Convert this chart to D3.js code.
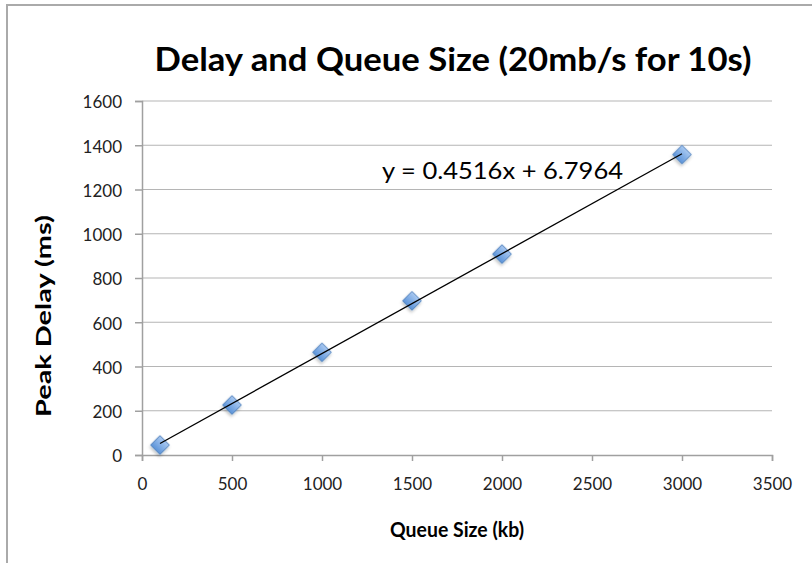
<!DOCTYPE html>
<html><head><meta charset="utf-8">
<script src="https://cdn.jsdelivr.net/npm/d3@7"></script>
<style>body{margin:0;background:#fff}svg{display:block}</style>
</head><body>
<svg id="c" width="812" height="563"></svg>
<script>
const queueSize = [100, 500, 1000, 1500, 2000, 3000];
const peakDelay = [45, 226, 464, 697, 908, 1358];
const xTicks = [0, 500, 1000, 1500, 2000, 2500, 3000, 3500];
const yTicks = [0, 200, 400, 600, 800, 1000, 1200, 1400, 1600];
const slope = 0.4516, intercept = 6.7964;
const titleText = "Delay and Queue Size (20mb/s for 10s)";
const xTitle = "Queue Size (kb)", yTitle = "Peak Delay (ms)";
const eqText = "y = 0.4516x + 6.7964";

const svg = d3.select("#c");
const font = "Lato, 'Open Sans', sans-serif";
// frame
svg.append("path").attr("d","M7,563 V5 H812").attr("fill","none").attr("stroke","#aaa").attr("stroke-width",2);

const x = d3.scaleLinear().domain([0,3500]).range([142,772]);
const y = d3.scaleLinear().domain([0,1600]).range([455,101]);

const defs = svg.append("defs");
const g1 = defs.append("linearGradient").attr("id","mk").attr("x1","0").attr("y1","0").attr("x2","0").attr("y2","1");
g1.append("stop").attr("offset","0").attr("stop-color","#a9c9f1");
g1.append("stop").attr("offset","1").attr("stop-color","#5b93d9");
const f = defs.append("filter").attr("id","sh").attr("x","-50%").attr("y","-50%").attr("width","200%").attr("height","200%");
f.append("feDropShadow").attr("dx",1).attr("dy",2).attr("stdDeviation",1.5).attr("flood-color","#000").attr("flood-opacity",0.25);

// gridlines
svg.append("g").selectAll("line").data(yTicks.filter(d=>d>0)).join("line")
  .attr("x1",x(0)).attr("x2",x(3500)).attr("y1",d=>y(d)).attr("y2",d=>y(d))
  .attr("stroke","#b5b5b5").attr("stroke-width",1.2);

// axes
const xa = svg.append("g").attr("transform",`translate(0,${y(0)})`)
  .call(d3.axisBottom(x).tickValues(xTicks).tickSize(6).tickFormat(d3.format("d")));
const ya = svg.append("g").attr("transform",`translate(${x(0)},0)`)
  .call(d3.axisLeft(y).tickValues(yTicks).tickSize(7).tickPadding(13).tickFormat(d3.format("d")));
[xa,ya].forEach(a=>{
  a.select(".domain").attr("stroke","#a0a0a0").attr("stroke-width",1.5);
  a.selectAll(".tick line").attr("stroke","#a0a0a0").attr("stroke-width",1.5);
  a.selectAll("text").attr("font-family",font).attr("font-size",17).attr("fill","#222");
});
xa.selectAll("text").attr("y",35).attr("dy",0);
ya.selectAll("text").attr("dy","0.4em");

const trend = () => svg.append("line")
  .attr("x1",x(queueSize[0])).attr("y1",y(slope*queueSize[0]+intercept))
  .attr("x2",x(queueSize[queueSize.length-1])).attr("y2",y(slope*queueSize[queueSize.length-1]+intercept))
  .attr("stroke","#000").attr("stroke-width",1.3);

// markers
const sym = d3.symbol().type(d3.symbolSquare).size(175);
svg.append("g").selectAll("path").data(queueSize.map((q,i)=>[q,peakDelay[i]])).join("path")
  .attr("d",sym).attr("transform",d=>`translate(${x(d[0])},${y(d[1])}) rotate(45)`)
  .attr("fill","url(#mk)").attr("stroke","#4a7ebb").attr("stroke-width",0.8).attr("filter","url(#sh)");
trend();

// equation
svg.append("text").attr("x",382).attr("y",179).attr("font-family",font).attr("font-size",23)
  .attr("fill","#000").attr("textLength",241).attr("lengthAdjust","spacingAndGlyphs").text(eqText);

// title
svg.append("text").attr("x",453).attr("y",71).attr("text-anchor","middle").attr("font-family",font)
  .attr("font-weight","bold").attr("font-size",32).attr("fill","#000")
  .attr("textLength",597).attr("lengthAdjust","spacingAndGlyphs").text(titleText);

// axis titles
svg.append("text").attr("x",457).attr("y",537).attr("text-anchor","middle").attr("font-family",font)
  .attr("font-weight","bold").attr("font-size",21).attr("fill","#000")
  .attr("textLength",134).attr("lengthAdjust","spacingAndGlyphs").text(xTitle);
svg.append("text").attr("transform","translate(51,316) rotate(-90)").attr("text-anchor","middle").attr("font-family",font)
  .attr("font-weight","bold").attr("font-size",21).attr("fill","#000")
  .attr("textLength",202).attr("lengthAdjust","spacingAndGlyphs").text(yTitle);
</script>
</body></html>
